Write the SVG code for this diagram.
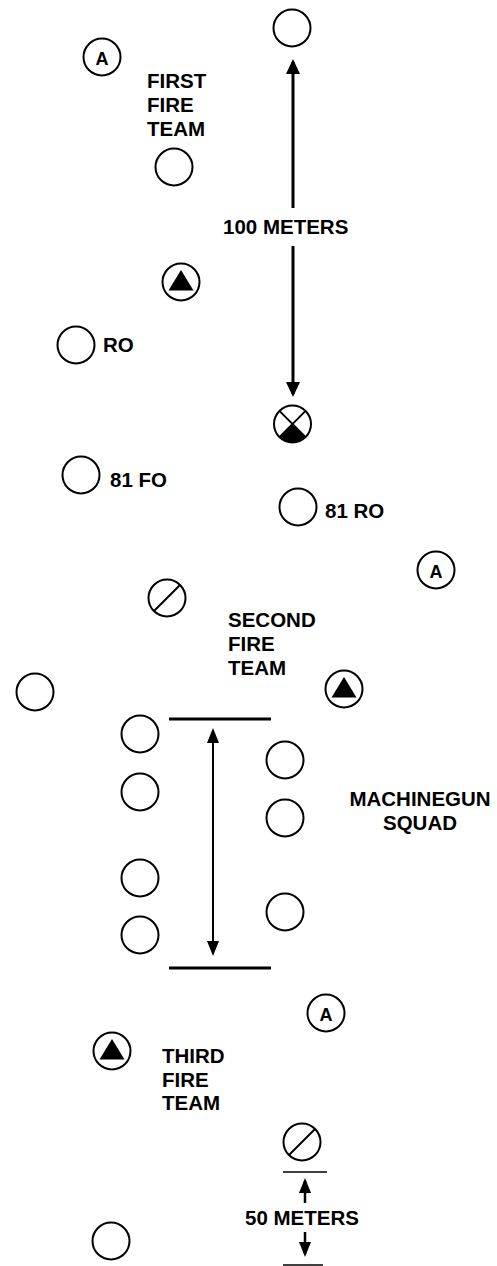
<svg xmlns="http://www.w3.org/2000/svg" width="497" height="1266" viewBox="0 0 497 1266">
<defs>
<style>
.n{fill:#fff;stroke:#000;stroke-width:2}
.k{fill:none;stroke:#000;stroke-width:2}
.f{fill:#000;stroke:none}
.t{font-family:"Liberation Sans",Arial,sans-serif;font-weight:bold;font-size:20.5px;fill:#000}
.a{font-family:"Liberation Sans",Arial,sans-serif;font-weight:bold;font-size:18px;fill:#000;text-anchor:middle}
.c{fill:none;stroke:#000}
</style>
<marker id="ah" markerUnits="userSpaceOnUse" markerWidth="15" markerHeight="14" viewBox="0 0 15 14" refX="12" refY="7" orient="auto-start-reverse"><path d="M0,0 L15,7 L0,14 Z" fill="#000"/></marker>
<marker id="ahs" markerUnits="userSpaceOnUse" markerWidth="15" markerHeight="12" viewBox="0 0 15 12" refX="12" refY="6" orient="auto-start-reverse"><path d="M0,0 L15,6 L0,12 Z" fill="#000"/></marker>
<circle id="o" r="18.5" class="n"/>
</defs>
<rect width="497" height="1266" fill="#fff"/>

<g id="connectors">
<line class="c" stroke-width="3" x1="293" y1="208" x2="293" y2="62" marker-end="url(#ah)"/>
<line class="c" stroke-width="3" x1="293" y1="246" x2="293" y2="394" marker-end="url(#ah)"/>
<line class="c" stroke-width="3" x1="169" y1="719" x2="271" y2="719"/>
<line class="c" stroke-width="3" x1="169" y1="968" x2="271" y2="968"/>
<line class="c" stroke-width="2" x1="213" y1="731" x2="213" y2="953" marker-start="url(#ahs)" marker-end="url(#ahs)"/>
<line class="c" stroke-width="1.5" x1="283" y1="1172" x2="327" y2="1172"/>
<line class="c" stroke-width="1.5" x1="283" y1="1265" x2="323" y2="1265"/>
<line class="c" stroke-width="2.5" x1="305" y1="1203" x2="305" y2="1181" marker-end="url(#ahs)"/>
<line class="c" stroke-width="2.5" x1="305" y1="1232" x2="305" y2="1254" marker-end="url(#ahs)"/>
</g>

<g id="label-100m"><text class="t" x="223" y="234">100 METERS</text></g>
<g id="label-50m"><text class="t" x="245" y="1225">50 METERS</text></g>

<g id="first-team-label"><text class="t" x="147" y="88">FIRST</text><text class="t" x="147" y="112">FIRE</text><text class="t" x="147" y="136">TEAM</text></g>
<g id="second-team-label"><text class="t" x="228" y="627">SECOND</text><text class="t" x="228" y="651">FIRE</text><text class="t" x="228" y="675">TEAM</text></g>
<g id="mg-label"><text class="t" x="420" y="806" text-anchor="middle">MACHINEGUN</text><text class="t" x="420" y="830" text-anchor="middle">SQUAD</text></g>
<g id="third-team-label"><text class="t" x="162" y="1063">THIRD</text><text class="t" x="162" y="1087">FIRE</text><text class="t" x="162" y="1110">TEAM</text></g>

<g id="n-point" transform="translate(292,28)"><use href="#o"/></g>
<g id="n-a1" transform="translate(102,57)"><use href="#o"/><text class="a" y="7.5">A</text></g>
<g id="n-r1" transform="translate(174,167)"><use href="#o"/></g>
<g id="n-tl1" transform="translate(181,282)"><use href="#o"/><polygon class="f" points="0,-12 12.5,8.5 -12.5,8.5"/></g>
<g id="n-ro" transform="translate(76,345)"><use href="#o"/><text class="t" x="27" y="7">RO</text></g>
<g id="n-leader" transform="translate(292.5,424)"><use href="#o"/><path class="f" d="M0,0 L13.1,13.1 A18.5,18.5 0 0 1 -13.1,13.1 Z"/><path class="k" d="M-13.1,-13.1 L13.1,13.1 M13.1,-13.1 L-13.1,13.1"/></g>
<g id="n-81fo" transform="translate(81,475)"><use href="#o"/><text class="t" x="29" y="12">81 FO</text></g>
<g id="n-81ro" transform="translate(298,507)"><use href="#o"/><text class="t" x="27" y="11">81 RO</text></g>
<g id="n-a2" transform="translate(436,570)"><use href="#o"/><text class="a" y="7.5">A</text></g>
<g id="n-sq" transform="translate(167,598)"><use href="#o"/><path class="k" d="M-13,13 L13,-13"/></g>
<g id="n-r2" transform="translate(35,692)"><use href="#o"/></g>
<g id="n-tl2" transform="translate(344,689)"><use href="#o"/><polygon class="f" points="0,-12 12.5,8.5 -12.5,8.5"/></g>
<g id="n-mg1" transform="translate(140,734)"><use href="#o"/></g>
<g id="n-mg2" transform="translate(140,792)"><use href="#o"/></g>
<g id="n-mg3" transform="translate(140,878)"><use href="#o"/></g>
<g id="n-mg4" transform="translate(140,935)"><use href="#o"/></g>
<g id="n-mg5" transform="translate(285,760)"><use href="#o"/></g>
<g id="n-mg6" transform="translate(285,818)"><use href="#o"/></g>
<g id="n-mg7" transform="translate(285,912)"><use href="#o"/></g>
<g id="n-a3" transform="translate(326,1013)"><use href="#o"/><text class="a" y="7.5">A</text></g>
<g id="n-tl3" transform="translate(112,1051)"><use href="#o"/><polygon class="f" points="0,-12 12.5,8.5 -12.5,8.5"/></g>
<g id="n-sq2" transform="translate(302,1142)"><use href="#o"/><path class="k" d="M-13,13 L13,-13"/></g>
<g id="n-r3" transform="translate(111,1241)"><use href="#o"/></g>
</svg>
